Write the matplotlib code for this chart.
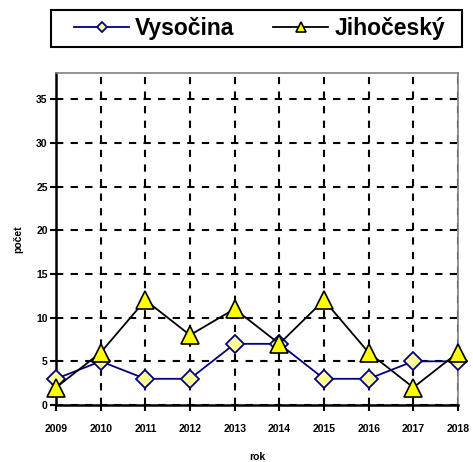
import matplotlib.pyplot as plt
from matplotlib.patches import Rectangle

years = [2009, 2010, 2011, 2012, 2013, 2014, 2015, 2016, 2017, 2018]
vysocina = [3, 5, 3, 3, 7, 7, 3, 3, 5, 5]
jihocesky = [2, 6, 12, 8, 11, 7, 12, 6, 2, 6]

plt.rcParams['font.family'] = ['Liberation Sans', 'DejaVu Sans']
plt.rcParams['font.weight'] = 'bold'

W, H = 473, 462
fig = plt.figure(figsize=(W / 100, H / 100), dpi=100)
ax = fig.add_axes([56 / W, 1 - 405 / H, (458 - 56) / W, (405 - 73) / H])

ax.plot(years, vysocina, color='#000080', lw=1.3, marker='D', ms=9,
        mfc='#FFFF99', mec='#000080', mew=1.3, label='Vysočina', clip_on=False, zorder=3)
ax.plot(years, jihocesky, color='black', lw=1.3, marker='^', ms=13,
        mfc='#FFFF00', mec='black', mew=1.2, label='Jihočeský', clip_on=False, zorder=4)

ax.set_xlim(2009, 2018)
ax.set_ylim(0, 38)
ax.set_xticks(years)
ax.set_yticks(range(0, 36, 5))
ax.tick_params(labelsize=7.5, width=1.5, length=4, direction='out', pad=10)
ax.tick_params(axis='y', pad=2)
for lbl in ax.get_xticklabels() + ax.get_yticklabels():
    lbl.set_fontweight('bold')

ax.grid(True, color='black', ls=(0, (3.5, 3.5)), lw=1.5)
ax.set_axisbelow(True)
for s in ['left', 'bottom']:
    ax.spines[s].set_linewidth(1.8)
for s in ['top', 'right']:
    ax.spines[s].set_color('#808080')
    ax.spines[s].set_linewidth(1.2)

ax.set_xlabel('rok', fontsize=7.5, fontweight='bold', labelpad=13)
ax.set_ylabel('počet', fontsize=7.5, fontweight='bold', labelpad=9)

# legend frame drawn separately so the padding can match
fig.patches.append(Rectangle((51 / W, 1 - 47 / H), (462 - 51) / W, 37 / H,
                             transform=fig.transFigure, fill=False,
                             edgecolor='black', lw=1.5))
fig.legend(loc='center', bbox_to_anchor=(259.5 / W, 1 - 28.5 / H), ncol=2,
           frameon=False, borderaxespad=0, borderpad=0,
           prop={'weight': 'bold', 'size': 16.5}, handlelength=2.4, columnspacing=1.7,
           handletextpad=0.26, markerscale=0.6)

fig.savefig('out.png', dpi=100)
